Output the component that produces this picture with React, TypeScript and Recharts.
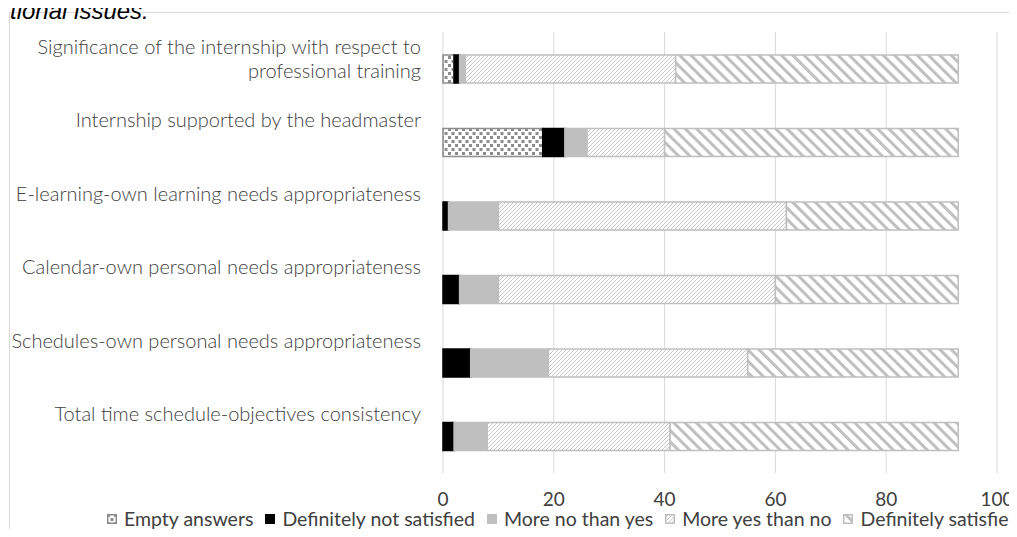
import React from 'react';
import { BarChart, Bar, XAxis, YAxis, CartesianGrid } from 'recharts';

const categories = [
  'Significance of the internship with respect to\nprofessional training',
  'Internship supported by the headmaster',
  'E-learning-own learning needs appropriateness',
  'Calendar-own personal needs appropriateness',
  'Schedules-own personal needs appropriateness',
  'Total time schedule-objectives consistency',
];
const emptyAnswers = [2, 18, 0, 0, 0, 0];
const definitelyNotSatisfied = [1, 4, 1, 3, 5, 2];
const moreNoThanYes = [1, 4, 9, 7, 14, 6];
const moreYesThanNo = [38, 14, 52, 50, 36, 33];
const definitelySatisfied = [51, 53, 31, 33, 38, 52];
const xTicks = [0, 20, 40, 60, 80, 100];
const seriesNames = ['Empty answers', 'Definitely not satisfied', 'More no than yes', 'More yes than no', 'Definitely satisfied'];
const titleFragment = 'tional issues.';

const data = categories.map((c, i) => ({
  category: c,
  empty: emptyAnswers[i],
  notSat: definitelyNotSatisfied[i],
  moreNo: moreNoThanYes[i],
  moreYes: moreYesThanNo[i],
  defSat: definitelySatisfied[i],
}));

const FONT = 'Lato, "Open Sans", sans-serif';

const seriesStyle = [
  { key: 'empty', fill: 'url(#patEmpty)', stroke: '#8c8c8c' },
  { key: 'notSat', fill: '#000000', stroke: '#000000' },
  { key: 'moreNo', fill: '#bfbfbf', stroke: '#bfbfbf' },
  { key: 'moreYes', fill: 'url(#patMoreYes)', stroke: '#bfbfbf' },
  { key: 'defSat', fill: 'url(#patDefSat)', stroke: '#bfbfbf' },
];

const CatTick = (props: any) => {
  const { x, y, payload } = props;
  const lines = String(payload.value).split('\n');
  return (
    <g>
      {lines.map((l, i) => (
        <text key={i} x={x} y={y - 22 + i * 24} dy="0.35em" textAnchor="end" fill="#404040" fontSize={20} fontWeight={300} fontFamily={FONT}>
          {l}
        </text>
      ))}
    </g>
  );
};

const Patterns = () => (
  <svg width={0} height={0} style={{ position: 'absolute' }}>
    <defs>
      <pattern id="patEmpty" patternUnits="userSpaceOnUse" width="7" height="8">
        <rect width="7" height="8" fill="#ffffff" />
        <rect x="0" y="0" width="3" height="3" fill="#8c8c8c" />
        <rect x="3.5" y="4" width="3" height="3" fill="#8c8c8c" />
      </pattern>
      <pattern id="patMoreYes" patternUnits="userSpaceOnUse" width="4" height="4">
        <rect width="4" height="4" fill="#ffffff" />
        <path d="M-1,1 l2,-2 M0,4 l4,-4 M3,5 l2,-2" stroke="#c8c8c8" strokeWidth="1" />
      </pattern>
      <pattern id="patDefSat" patternUnits="userSpaceOnUse" width="8" height="8" patternTransform="rotate(-45)">
        <rect width="8" height="8" fill="#ffffff" />
        <rect x="0" y="0" width="3" height="8" fill="#c0c0c0" />
      </pattern>
    </defs>
  </svg>
);

export default function App() {
  return (
    <div style={{ position: 'relative', width: 1017, height: 537, margin: -8, overflow: 'hidden', background: '#fff' }}>
      <Patterns />
      <div style={{ position: 'absolute', left: 9, top: 12, width: 1200, height: 600, border: '1px solid #d9d9d9', boxSizing: 'border-box' }} />
      <div style={{ position: 'absolute', left: 0, top: 0 }}>
        <BarChart
          width={1017}
          height={537}
          data={data}
          layout="vertical"
          barSize={28}
          margin={{ top: 32, right: 20, bottom: 30, left: 0 }}
          style={{ fontFamily: FONT }}
        >
          <CartesianGrid horizontal={false} vertical={true} stroke="#d9d9d9" strokeWidth={1} />
          <XAxis
            type="number"
            domain={[0, 100]}
            ticks={xTicks}
            axisLine={false}
            tickLine={false}
            tickSize={0}
            tickMargin={20}
            height={34}
            tick={{ fill: '#404040', fontSize: 19, fontFamily: FONT }}
          />
          <YAxis
            type="category"
            dataKey="category"
            width={443}
            axisLine={false}
            tickLine={false}
            tickSize={0}
            tickMargin={22}
            tick={<CatTick />}
            interval={0}
          />
          {seriesStyle.map((s) => (
            <Bar key={s.key} dataKey={s.key} stackId="a" fill={s.fill} stroke={s.stroke} strokeWidth={1.5} isAnimationActive={false} />
          ))}
        </BarChart>
      </div>
      <div style={{ position: 'absolute', zIndex: 5, left: 10, top: -3, lineHeight: '27px', fontFamily: '"Liberation Sans", Arial, sans-serif', fontStyle: 'italic', fontSize: 24, color: '#000', whiteSpace: 'nowrap' }}>
        {titleFragment}
      </div>
      <div style={{ position: 'absolute', left: 107, top: 507, display: 'flex', alignItems: 'center', whiteSpace: 'nowrap', fontFamily: FONT, fontSize: 19.5, color: '#404040' }}>
        {seriesNames.map((n, i) => (
          <div key={n} style={{ display: 'flex', alignItems: 'center', marginRight: 12 }}>
            <svg width={10} height={10} style={{ marginRight: 7 }}>
              <rect x={0.75} y={0.75} width={8.5} height={8.5} fill={seriesStyle[i].fill} stroke={seriesStyle[i].stroke} strokeWidth={1.5} />
            </svg>
            <span>{n}</span>
          </div>
        ))}
      </div>
    </div>
  );
}
